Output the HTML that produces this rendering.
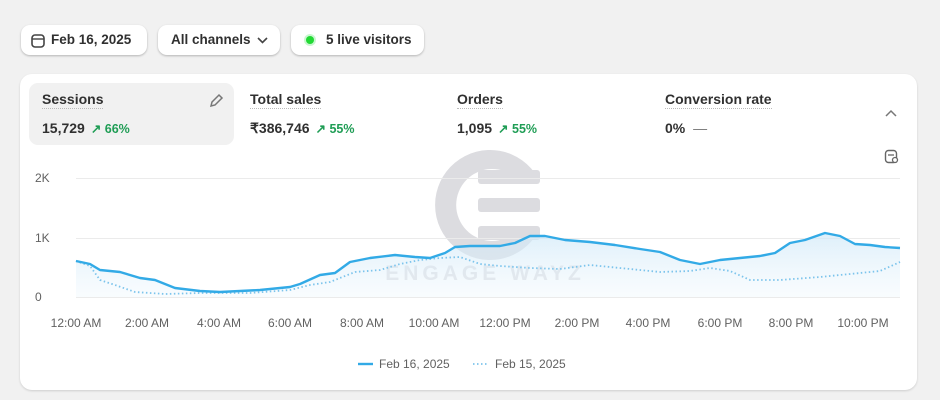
<!DOCTYPE html>
<html><head><meta charset="utf-8"><style>
body{margin:0;width:940px;height:400px;background:#f1f1f1;font-family:"Liberation Sans",sans-serif;position:relative;overflow:hidden;color:#303030}
.btn{position:absolute;top:25px;height:30px;background:#fff;border-radius:9px;box-shadow:0 1px 2px rgba(0,0,0,.25);font-size:13.5px;font-weight:bold;color:#303030;line-height:30px;box-sizing:border-box}
.card{position:absolute;left:20px;top:74px;width:897px;height:316px;background:#fff;border-radius:12px;box-shadow:0 1px 2px rgba(0,0,0,.15)}
.m{position:absolute;top:9px;height:62px;border-radius:9px}
.t{position:absolute;top:17px;font-size:14px;font-weight:bold;color:#303030;border-bottom:1.5px dotted #bbb;padding-bottom:1px}
.v{position:absolute;top:46px;font-size:14px;font-weight:bold;color:#303030;white-space:nowrap}
.g{color:#1f9d55;font-size:12.5px;margin-left:6px}
</style></head><body>
<div class="btn" style="left:21px;width:126px;padding-left:30px">Feb 16, 2025
<svg style="position:absolute;left:10px;top:8px" width="14" height="15"><rect x="1" y="2" width="12" height="12" rx="3" fill="none" stroke="#444" stroke-width="1.6"/><line x1="1" y1="6" x2="13" y2="6" stroke="#444" stroke-width="1.4"/></svg></div>
<div class="btn" style="left:158px;width:122px;padding-left:13px">All channels
<svg style="position:absolute;left:99px;top:12px" width="11" height="7"><path d="M1 1l4.5 4.5L10 1" fill="none" stroke="#444" stroke-width="1.6"/></svg></div>
<div class="btn" style="left:291px;width:133px;padding-left:35px">5 live visitors
<span style="position:absolute;left:13px;top:9px;width:12px;height:12px;border-radius:50%;background:#c9f7d0"></span><span style="position:absolute;left:15px;top:11px;width:8px;height:8px;border-radius:50%;background:#22d934"></span></div>
<div class="card">
<div class="m" style="left:9px;width:205px;background:#f1f1f1"></div>
<div class="t" style="left:22px">Sessions</div><div class="v" style="left:22px">15,729<span class="g">↗ 66%</span></div>
<svg style="position:absolute;left:188px;top:19px" width="16" height="16"><path d="M3 13l1-4 7-7 3 3-7 7z" fill="none" stroke="#777" stroke-width="1.5"/></svg>
<div class="t" style="left:230px">Total sales</div><div class="v" style="left:230px">₹386,746<span class="g">↗ 55%</span></div>
<div class="t" style="left:437px">Orders</div><div class="v" style="left:437px">1,095<span class="g">↗ 55%</span></div>
<div class="t" style="left:645px">Conversion rate</div><div class="v" style="left:645px">0% <span style="color:#777;font-weight:normal;margin-left:4px">—</span></div>
<svg style="position:absolute;left:865px;top:35px" width="12" height="8"><path d="M1 7l5-5 5 5" fill="none" stroke="#777" stroke-width="1.5"/></svg>
<svg style="position:absolute;left:864px;top:75px" width="16" height="16"><rect x="1.5" y="1.5" width="11" height="12" rx="3" fill="none" stroke="#666" stroke-width="1.4"/><line x1="4" y1="6" x2="10" y2="6" stroke="#666" stroke-width="1.3"/><circle cx="11" cy="11" r="2.5" fill="#fff" stroke="#666" stroke-width="1.3"/></svg>
</div>
<svg style="position:absolute;left:0;top:0" width="940" height="400">
<g fill="#dcdce0">
<path d="M538 178 A55 55 0 1 0 538 232 L516 232 A36 36 0 1 1 516 178 Z"/>
<rect x="478" y="170" width="62" height="14" rx="3"/><rect x="478" y="198" width="62" height="14" rx="3"/><rect x="478" y="226" width="62" height="14" rx="3"/>
</g>
<text x="485" y="280" text-anchor="middle" font-family="Liberation Sans" font-weight="bold" font-size="21" letter-spacing="4" fill="#e2e2e5">ENGAGE WAYZ</text>
<g stroke="#ebebeb" stroke-width="1"><line x1="76" y1="178.5" x2="900" y2="178.5"/><line x1="76" y1="238.5" x2="900" y2="238.5"/><line x1="76" y1="297.5" x2="900" y2="297.5"/></g>
<g font-size="12" fill="#616161" font-family="Liberation Sans"><text x="35" y="182">2K</text><text x="35" y="242">1K</text><text x="35" y="301">0</text></g>
<g font-size="12" fill="#616161" text-anchor="middle" font-family="Liberation Sans">
<text x="76" y="327">12:00 AM</text><text x="147" y="327">2:00 AM</text><text x="219" y="327">4:00 AM</text><text x="290" y="327">6:00 AM</text><text x="362" y="327">8:00 AM</text><text x="434" y="327">10:00 AM</text><text x="505" y="327">12:00 PM</text><text x="577" y="327">2:00 PM</text><text x="648" y="327">4:00 PM</text><text x="720" y="327">6:00 PM</text><text x="791" y="327">8:00 PM</text><text x="863" y="327">10:00 PM</text></g>
<defs><linearGradient id="gr" x1="0" y1="0" x2="0" y2="1"><stop offset="0" stop-color="#cfe8f8" stop-opacity=".7"/><stop offset="1" stop-color="#eaf5fc" stop-opacity=".3"/></linearGradient></defs>
<polygon fill="url(#gr)" points="76,261 90,264 100,270 120,272 140,278 155,280 175,288 200,291 220,292 240,291 260,290 290,287 300,284 320,275 335,273 350,262 370,258 395,255 415,257 430,258 445,253 455,247 470,246 500,246 515,243 530,236 545,236 565,240 590,242 615,245 640,249 660,252 680,260 700,264 720,260 740,258 760,256 775,253 790,243 805,240 825,233 840,236 855,244 870,245 885,247 900,248 900,297 76,297"/>
<polyline fill="none" stroke="#7cc4ec" stroke-width="1.8" stroke-dasharray="1.5,2.5" stroke-linejoin="round" points="76,261 90,266 100,280 115,285 135,292 165,294 200,293 250,293 290,290 310,285 330,282 355,272 380,270 400,264 420,260 440,258 460,257 480,264 500,266 530,268 560,269 590,265 610,267 640,270 660,272 690,271 710,268 730,271 750,280 780,280 820,277 850,274 880,271 900,262"/>
<polyline fill="none" stroke="#32aae6" stroke-width="2.4" stroke-linejoin="round" points="76,261 90,264 100,270 120,272 140,278 155,280 175,288 200,291 220,292 240,291 260,290 290,287 300,284 320,275 335,273 350,262 370,258 395,255 415,257 430,258 445,253 455,247 470,246 500,246 515,243 530,236 545,236 565,240 590,242 615,245 640,249 660,252 680,260 700,264 720,260 740,258 760,256 775,253 790,243 805,240 825,233 840,236 855,244 870,245 885,247 900,248"/>
<line x1="358" y1="364" x2="373" y2="364" stroke="#32aae6" stroke-width="2.4"/>
<text x="379" y="368" font-size="12" fill="#616161" font-family="Liberation Sans">Feb 16, 2025</text>
<line x1="473" y1="364" x2="489" y2="364" stroke="#7cc4ec" stroke-width="1.8" stroke-dasharray="1.5,2.5"/>
<text x="495" y="368" font-size="12" fill="#616161" font-family="Liberation Sans">Feb 15, 2025</text>
</svg>
</body></html>
